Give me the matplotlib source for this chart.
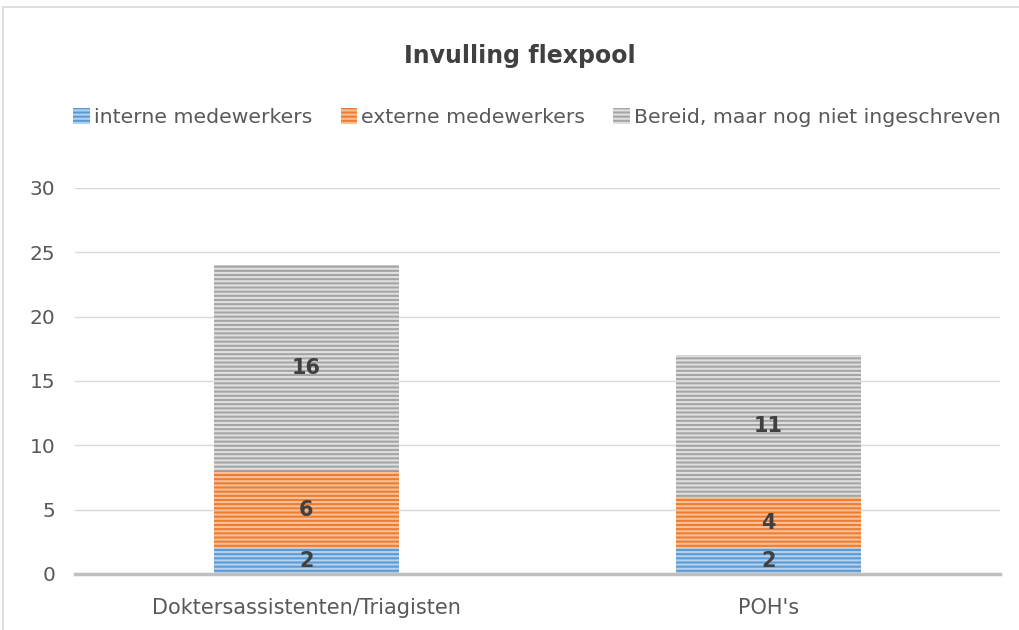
import matplotlib.pyplot as plt
import matplotlib.patches as mpatches
import numpy as np

# data
categories = ['Doktersassistenten/Triagisten', "POH's"]
series_names = ['interne medewerkers', 'externe medewerkers', 'Bereid, maar nog niet ingeschreven']
interne = [2, 2]
externe = [6, 4]
bereid = [16, 11]

colors = ['#5B9BD5', '#ED7D31', '#A5A5A5']
stripes = ['#B4D2EE', '#F8C09A', '#E0E0E0']

plt.rcParams['hatch.linewidth'] = 1.5

fig = plt.figure(figsize=(10.19, 6.30), dpi=100)
ax = fig.add_axes([0.0736, 0.0889, 0.9074, 0.6127])

x = np.arange(len(categories))
bottom = np.zeros(len(categories))
handles = []
for vals, name, c, s in zip([interne, externe, bereid], series_names, colors, stripes):
    ax.bar(x, vals, 0.4, bottom=bottom, color=c, edgecolor=s,
           hatch='----', linewidth=0, label=name, zorder=2)
    for xi, v, b in zip(x, vals, bottom):
        ax.text(xi, b + v / 2, str(v), ha='center', va='center',
                fontsize=15, fontweight='bold', color='#404040', zorder=3)
    bottom += np.array(vals)
    handles.append(mpatches.Patch(facecolor=c, edgecolor=s, hatch='----',
                                  linewidth=0, label=name))

ax.set_xlim(-0.5, 1.5)
ax.set_ylim(0, 30)
ax.set_yticks(range(0, 31, 5))
ax.set_xticks(x)
ax.set_xticklabels(categories)
ax.tick_params(axis='both', length=0, labelsize=14.5, labelcolor='#595959')
ax.tick_params(axis='y', pad=14)
ax.tick_params(axis='x', labelsize=15, pad=17)
ax.yaxis.grid(True, color='#D9D9D9', linewidth=1, zorder=0)
ax.set_axisbelow(True)
for sp in ['top', 'right', 'left']:
    ax.spines[sp].set_visible(False)
ax.spines['bottom'].set_color('#BFBFBF')
ax.spines['bottom'].set_linewidth(2.5)
ax.spines['bottom'].set_zorder(4)

fig.suptitle('Invulling flexpool', x=0.51, y=0.93, fontsize=17, fontweight='bold',
             color='#404040')
fig.legend(handles=handles, loc='center', bbox_to_anchor=(0.527, 0.813), ncol=3,
           frameon=False, fontsize=14.7, handlelength=0.8, handleheight=0.8,
           handletextpad=0.2, columnspacing=1.4, labelcolor='#595959')

# outer chart border
fig.patches.append(mpatches.Rectangle((3 / 1019, -0.1), 1.2, (623 / 630) + 0.1,
                                      transform=fig.transFigure, fill=False,
                                      edgecolor='#D9D9D9', linewidth=1.2))

fig.savefig('out.png', dpi=100)
